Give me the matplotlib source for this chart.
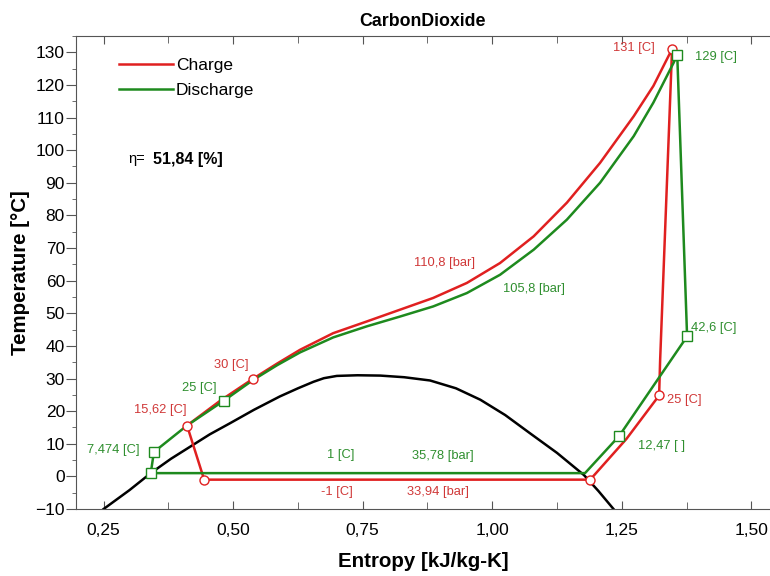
import matplotlib
matplotlib.use('Agg')
from matplotlib import pyplot as plt
from matplotlib.ticker import MultipleLocator, FuncFormatter

plt.rcParams['font.family'] = ['Liberation Sans', 'DejaVu Sans']

# charge cycle (red)
charge_s = [0.411, 0.475, 0.538, 0.585, 0.629, 0.693, 0.758, 0.822, 0.886, 0.951, 1.015,
            1.080, 1.144, 1.208, 1.273, 1.311, 1.347, 1.324, 1.322, 1.259, 1.189, 0.444, 0.411]
charge_T = [15.6, 23.2, 29.9, 34.6, 38.8, 43.9, 47.5, 51.1, 54.7, 59.3, 65.4,
            73.6, 83.9, 96.1, 110.4, 119.7, 131.0, 35.7, 24.8, 11.5, -1.0, -1.0, 15.6]
charge_pts_s = [0.411, 0.538, 1.347, 1.322, 1.189, 0.444]
charge_pts_T = [15.6, 29.9, 131.0, 24.8, -1.0, -1.0]

# discharge cycle (green)
dis_s = [0.341, 0.347, 0.411, 0.482, 0.538, 0.585, 0.629, 0.693, 0.758, 0.822, 0.886,
         0.951, 1.015, 1.080, 1.144, 1.208, 1.273, 1.311, 1.350, 1.357, 1.376, 1.245,
         1.179, 0.341]
dis_T = [1.0, 7.47, 15.6, 23.2, 29.5, 34.1, 38.0, 42.6, 46.0, 49.0, 52.1,
         56.2, 61.8, 69.5, 78.7, 90.0, 104.3, 114.6, 126.8, 129.2, 42.9, 12.4,
         1.0, 1.0]
dis_pts_s = [0.341, 0.347, 0.482, 1.357, 1.376, 1.245]
dis_pts_T = [1.0, 7.47, 23.2, 129.2, 42.9, 12.4]

# saturation dome
dome_s = [0.25, 0.30, 0.341, 0.38, 0.417, 0.455, 0.494, 0.54, 0.59, 0.625, 0.655, 0.675,
          0.70, 0.74, 0.784, 0.83, 0.88, 0.93, 0.977, 1.025, 1.073, 1.125, 1.177, 1.205, 1.234]
dome_T = [-10.0, -4.2, 1.0, 5.4, 9.1, 12.9, 16.3, 20.4, 24.5, 27.0, 29.0, 30.1,
          30.8, 31.0, 30.9, 30.4, 29.4, 27.0, 23.5, 18.8, 13.2, 7.2, 0.4, -4.5, -10.0]

red = '#e02020'
green = '#1e8a1e'
red_txt = '#d03838'
green_txt = '#2f8f2f'

labels_red = [(1.313, 131.3, '131 [C]', 'right'), (0.907, 65.5, '110,8 [bar]', 'center'),
              (1.371, 23.5, '25 [C]', 'center'), (0.896, -4.8, '33,94 [bar]', 'center'),
              (0.700, -4.8, '-1 [C]', 'center'), (0.359, 20.4, '15,62 [C]', 'center'),
              (0.496, 34.2, '30 [C]', 'center')]
labels_green = [(1.392, 128.6, '129 [C]', 'left'), (1.081, 57.5, '105,8 [bar]', 'center'),
                (1.427, 45.6, '42,6 [C]', 'center'), (1.326, 9.3, '12,47 [ ]', 'center'),
                (0.905, 6.3, '35,78 [bar]', 'center'), (0.707, 6.6, '1 [C]', 'center'),
                (0.268, 8.1, '7,474 [C]', 'center'), (0.434, 27.1, '25 [C]', 'center')]

fig = plt.figure(figsize=(7.7, 5.76), dpi=100)
ax = fig.add_axes([0.0987, 0.1163, 0.9013, 0.8212])

ax.plot(dome_s, dome_T, color='black', lw=1.8, zorder=2)
ax.plot(charge_s, charge_T, color=red, lw=1.8, label='Charge', zorder=3)
ax.plot(dis_s, dis_T, color=green, lw=1.8, label='Discharge', zorder=3)
ax.plot(charge_pts_s, charge_pts_T, 'o', ls='none', ms=6.5, mfc='white', mec=red, mew=1, zorder=4)
ax.plot(dis_pts_s, dis_pts_T, 's', ls='none', ms=7, mfc='white', mec=green, mew=1, zorder=4)

for x, y, t, ha in labels_red:
    ax.text(x, y, t, color=red_txt, fontsize=9.3, ha=ha, va='center')
for x, y, t, ha in labels_green:
    ax.text(x, y, t, color=green_txt, fontsize=9.3, ha=ha, va='center')

ax.text(0.297, 97.2, 'η=', fontsize=10.5, ha='left', va='center')
ax.text(0.346, 97.2, '51,84 [%]', fontsize=11.5, fontweight='bold', ha='left', va='center')

ax.set_xlim(0.1967, 1.536)
ax.set_ylim(-10, 135)
ax.xaxis.set_major_locator(MultipleLocator(0.25))
ax.xaxis.set_minor_locator(MultipleLocator(0.125))
ax.yaxis.set_major_locator(MultipleLocator(10))
ax.yaxis.set_minor_locator(MultipleLocator(5))
ax.xaxis.set_major_formatter(FuncFormatter(lambda v, p: ('%.2f' % v).replace('.', ',')))

ax.tick_params(axis='x', which='both', direction='in', top=True, labelsize=12.5, pad=10)
ax.tick_params(axis='x', which='major', length=6)
ax.tick_params(axis='x', which='minor', length=5)
ax.tick_params(axis='y', which='major', direction='out', length=7, labelsize=12.5, pad=1)
ax.tick_params(axis='y', which='minor', direction='out', length=3)
ax.spines['right'].set_visible(False)
for sp in ['left', 'bottom', 'top']:
    ax.spines[sp].set_color('#555555')
ax.tick_params(colors='#555555', which='both', labelcolor='black')

ax.set_title('CarbonDioxide', fontsize=12.8, fontweight='bold', pad=7)
ax.set_xlabel('Entropy [kJ/kg-K]', fontsize=14.8, fontweight='bold', labelpad=10)
ax.set_ylabel('Temperature [°C]', fontsize=14.8, fontweight='bold', labelpad=4)

ax.legend(loc='upper left', bbox_to_anchor=(0.04, 0.987), frameon=False, fontsize=12.5,
          handlelength=3.1, handletextpad=0.15, labelspacing=0.6)

plt.savefig('out.png', dpi=100)
